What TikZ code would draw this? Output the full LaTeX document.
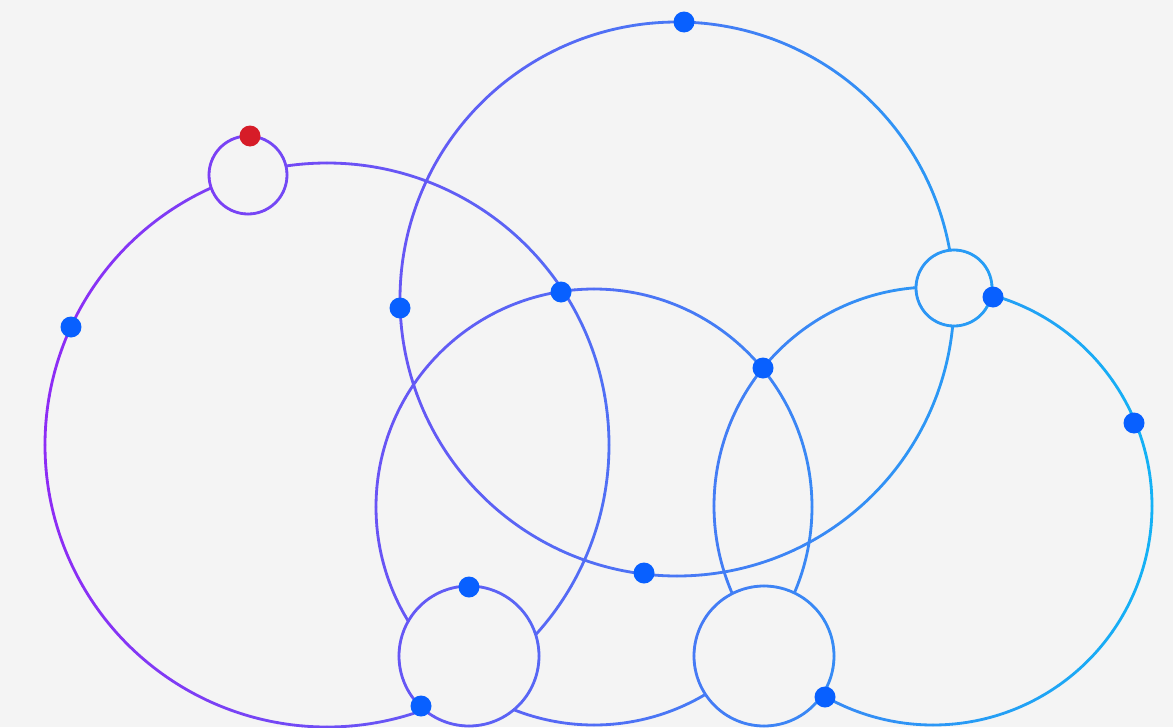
\documentclass[tikz,border=0pt]{standalone}
\usepackage{xcolor}
\usetikzlibrary{positioning, calc}
\definecolor{bgC}{RGB}{244,244,244}
\definecolor{dotC}{RGB}{8,96,255}
\definecolor{redC}{RGB}{214,28,40}

% ring with a left-to-right colour run: centre x, centre y, radius
\newcommand{\ringdraw}[3]{%
  \foreach \a in {0,5,...,355}{
    \pgfmathsetmacro\tm{(#1+#3*cos(\a+2.5)-45)/1107}
    \pgfmathtruncatemacro\cr{142-122*\tm}
    \pgfmathtruncatemacro\cg{44+134*\tm}
    \definecolor{segC}{RGB}{\cr,\cg,245}
    \draw[ring, segC] ({#1+#3*cos(\a)},{#2+#3*sin(\a)}) arc[start angle=\a, end angle=\a+5, radius=#3];
  }}

\begin{document}
\begin{tikzpicture}[x=0.02cm, y=-0.02cm,
    ring/.style={line width=1.6pt, line cap=round},
    dot/.style={circle, fill=dotC, inner sep=0pt, minimum size=0.42cm},
    reddot/.style={dot, fill=redC}]
    % Background
    \fill[bgC] (0,0) rectangle (1173,727);
    \useasboundingbox (0,0) rectangle (1173,727);

    % Big circles
    \ringdraw{327}{445}{282}
    \ringdraw{677}{299}{277}
    \ringdraw{594}{507}{218}
    \ringdraw{933}{506}{219}

    % Small circles
    \foreach \cx/\cy/\r in {248/175/39, 954/288/38, 469/656/70, 764/656/70}{
        \fill[bgC] (\cx,\cy) circle[radius=\r];
        \ringdraw{\cx}{\cy}{\r}
    }

    % Dots
    \node[reddot] (topred) at (250,136) {};
    \node[dot] (leftdot) at (71,327) {};
    \node[dot] (topleftdot) at (400,308) {};
    \node[dot] (meetA) at (561,292) {};
    \node[dot] (topdot) at (684,22) {};
    \node[dot] (meetB) at (763,368) {};
    \node[dot] (smallright) at (993,297) {};
    \node[dot] (rightdot) at (1134,423) {};
    \node[dot] (lowdot) at (644,573) {};
    \node[dot] (ringAtop) at (469,587) {};
    \node[dot] (ringAlow) at (421,706) {};
    \node[dot] (ringBlow) at (825,697) {};
\end{tikzpicture}
\end{document}
